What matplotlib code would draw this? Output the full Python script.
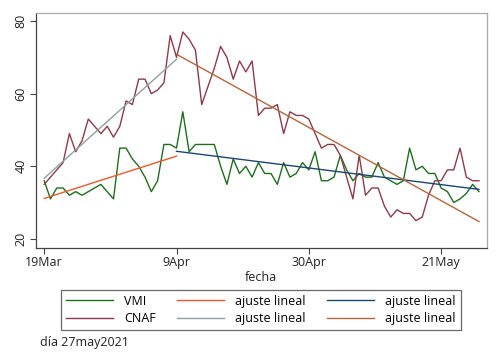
import numpy as np
import matplotlib
matplotlib.use("Agg")
import matplotlib.pyplot as plt

plt.rcParams['font.family'] = ['Open Sans', 'DejaVu Sans']

# days since 19 Mar 2021
days = list(range(70))
vmi = [36, 31, 34, 34, 32, 33, 32, 33, 34, 35, 33, 31, 45, 45, 42, 40, 37, 33, 36, 46,
       46, 45, 55, 44, 46, 46, 46, 46, 40, 35, 42, 38, 40, 37, 41, 38, 38, 35, 41, 37,
       38, 41, 39, 44, 36, 36, 37, 43, 39, 36, 38, 37, 37, 41, 37, 36, 35, 36, 45, 39,
       40, 38, 38, 34, 33, 30, 31, 32.5, 35, 33]
cnaf = [35, 37, 39, 41, 49, 44, 47, 53, 51, 49, 51, 48, 51, 58, 57, 64, 64, 60, 61, 63,
        76, 70, 77, 75, 72, 57, 62, 67, 73, 70, 64, 69, 66, 69, 54, 56, 56, 57, 49, 55,
        54, 54, 53, 49, 45, 46, 46, 43, 37, 31, 43, 32, 34, 34, 29, 26, 28, 27, 27, 25,
        26, 32, 36, 36, 39, 39, 45, 37, 36, 36]
split_day = 21  # 9Apr
tick_days = [0, 21, 42, 63]
tick_labels = ['19Mar', '9Apr', '30Apr', '21May']
y_ticks = [20, 40, 60, 80]

c_vmi = '#1f6e1f'
c_cnaf = '#8c3b4b'
c_fit1 = '#e8592f'
c_fit2 = '#1c4670'
c_fit3 = '#8fa0a0'
c_fit4 = '#b4663e'

x = np.array(days, dtype=float)
v = np.array(vmi, dtype=float)
c = np.array(cnaf, dtype=float)
m1 = x <= split_day
m2 = x >= split_day

def fitline(xx, yy):
    b, a = np.polyfit(xx, yy, 1)
    xs = np.array([xx.min(), xx.max()])
    return xs, a + b * xs

fs = 9
fig = plt.figure(figsize=(5.0, 3.64), dpi=100)
ax = fig.add_axes([0.072, 0.319, 0.901, 0.645])

lw = 1.0
h_vmi, = ax.plot(x, v, color=c_vmi, lw=lw, label='VMI')
h_cnaf, = ax.plot(x, c, color=c_cnaf, lw=lw, label='CNAF')
xs, ys = fitline(x[m1], v[m1])
h1, = ax.plot(xs, ys, color=c_fit1, lw=lw, label='ajuste lineal')
xs, ys = fitline(x[m2], v[m2])
h2, = ax.plot(xs, ys, color=c_fit2, lw=lw, label='ajuste lineal')
xs, ys = fitline(x[m1], c[m1])
h3, = ax.plot(xs, ys, color=c_fit3, lw=lw, label='ajuste lineal')
xs, ys = fitline(x[m2], c[m2])
h4, = ax.plot(xs, ys, color=c_fit4, lw=lw, label='ajuste lineal')

ax.set_xlim(-1.3, 70.2)
ax.set_ylim(17.5, 82.2)
ax.set_xticks(tick_days)
ax.set_xticklabels(tick_labels, fontsize=fs, color='#222222')
ax.set_yticks(y_ticks)
ax.set_yticklabels([str(t) for t in y_ticks], fontsize=fs, rotation=90, va='center', color='#222222')
ax.tick_params(axis='both', direction='out', length=4, width=0.8, color='#444444', pad=2)
ax.set_xlabel('fecha', fontsize=fs, labelpad=1, color='#222222')

for s in ['left', 'bottom']:
    ax.spines[s].set_color('#444444')
    ax.spines[s].set_linewidth(0.9)
for s in ['top', 'right']:
    ax.spines[s].set_color('#aaaaaa')
    ax.spines[s].set_linewidth(0.9)

leg = fig.legend(handles=[h_vmi, h_cnaf, h1, h3, h2, h4], ncol=3, loc='center',
                 bbox_to_anchor=(0.522, 0.149), fontsize=fs, frameon=True, fancybox=False,
                 handlelength=3.75, handletextpad=0.9, columnspacing=1.7, labelspacing=0.35,
                 borderpad=0.4, borderaxespad=0)
leg.get_frame().set_edgecolor('#444444')
leg.get_frame().set_linewidth(0.9)

fig.text(0.08, 0.06, 'día 27may2021', fontsize=fs, color='#222222', ha='left', va='center')

fig.savefig('out.png', dpi=100, facecolor='white')
